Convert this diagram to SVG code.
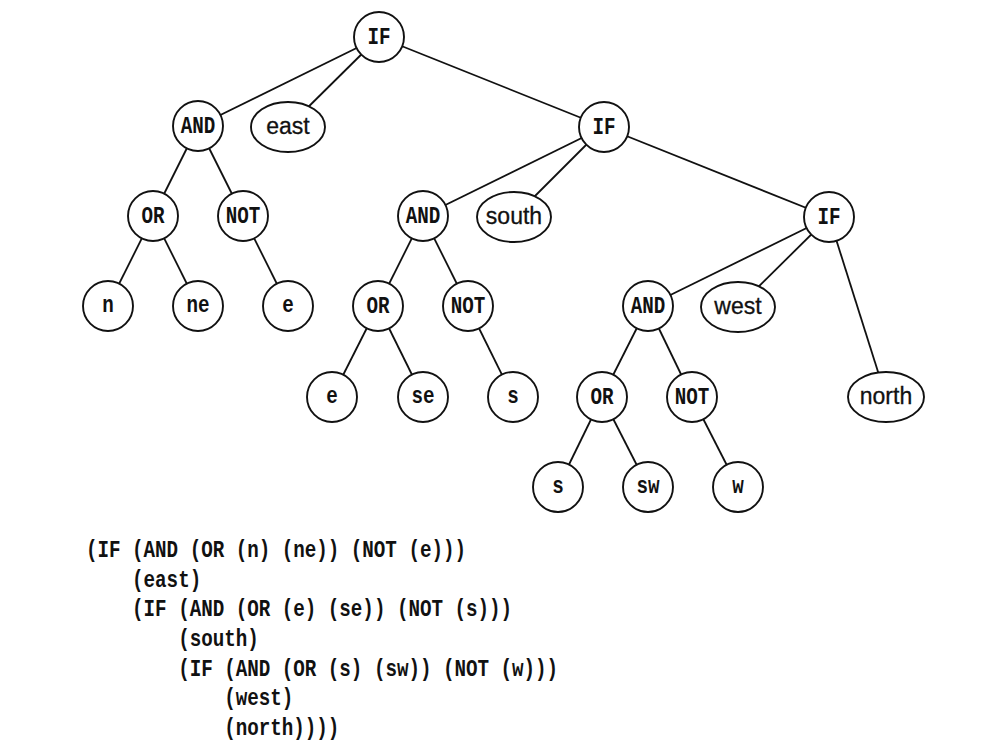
<svg xmlns="http://www.w3.org/2000/svg" width="981" height="745" viewBox="0 0 981 745">
<style>
.e{stroke:#111;stroke-width:1.8;fill:none}
.c{fill:#fff;stroke:#111;stroke-width:1.9}
.m{font-family:"Liberation Mono","Courier New",monospace;font-weight:bold;font-size:24px;fill:#111;text-anchor:middle}
.s{font-family:"Liberation Sans",Arial,sans-serif;font-size:23px;fill:#111;stroke:#111;stroke-width:0.3;text-anchor:middle}
.code{font-family:"Liberation Mono","Courier New",monospace;font-weight:bold;font-size:24px;fill:#111}
</style>
<rect width="981" height="745" fill="#fff"/>
<g id="connectors">
<line class="e" x1="379" y1="37" x2="198" y2="126"/>
<line class="e" x1="379" y1="37" x2="288" y2="127"/>
<line class="e" x1="379" y1="37" x2="604" y2="127"/>
<line class="e" x1="198" y1="126" x2="153" y2="216"/>
<line class="e" x1="198" y1="126" x2="243" y2="216"/>
<line class="e" x1="153" y1="216" x2="108" y2="306"/>
<line class="e" x1="153" y1="216" x2="198" y2="306"/>
<line class="e" x1="243" y1="216" x2="288" y2="306"/>
<line class="e" x1="604" y1="127" x2="423" y2="216"/>
<line class="e" x1="604" y1="127" x2="514" y2="217"/>
<line class="e" x1="604" y1="127" x2="829" y2="217"/>
<line class="e" x1="423" y1="216" x2="378" y2="306"/>
<line class="e" x1="423" y1="216" x2="468" y2="306"/>
<line class="e" x1="378" y1="306" x2="332" y2="397"/>
<line class="e" x1="378" y1="306" x2="423" y2="397"/>
<line class="e" x1="468" y1="306" x2="513" y2="397"/>
<line class="e" x1="829" y1="217" x2="648" y2="306"/>
<line class="e" x1="829" y1="217" x2="738" y2="307"/>
<line class="e" x1="829" y1="217" x2="886" y2="397"/>
<line class="e" x1="648" y1="306" x2="602" y2="397"/>
<line class="e" x1="648" y1="306" x2="692" y2="397"/>
<line class="e" x1="602" y1="397" x2="558" y2="487"/>
<line class="e" x1="602" y1="397" x2="648" y2="487"/>
<line class="e" x1="692" y1="397" x2="738" y2="487"/>
</g>
<g id="if1"><circle class="c" cx="379" cy="37" r="25"/><text class="m" transform="translate(379,44) scale(0.8,1)">IF</text></g>
<g id="and1"><circle class="c" cx="198" cy="126" r="25"/><text class="m" transform="translate(198,133) scale(0.8,1)">AND</text></g>
<g id="east"><ellipse class="c" cx="288" cy="127" rx="37" ry="25"/><text class="s" x="288" y="134">east</text></g>
<g id="if2"><circle class="c" cx="604" cy="127" r="25"/><text class="m" transform="translate(604,134) scale(0.8,1)">IF</text></g>
<g id="or1"><circle class="c" cx="153" cy="216" r="25"/><text class="m" transform="translate(153,223) scale(0.8,1)">OR</text></g>
<g id="not1"><circle class="c" cx="243" cy="216" r="25"/><text class="m" transform="translate(243,223) scale(0.8,1)">NOT</text></g>
<g id="n"><circle class="c" cx="108" cy="306" r="25"/><text class="m" transform="translate(108,312) scale(0.8,1)">n</text></g>
<g id="ne"><circle class="c" cx="198" cy="306" r="25"/><text class="m" transform="translate(198,312) scale(0.8,1)">ne</text></g>
<g id="e1"><circle class="c" cx="288" cy="306" r="25"/><text class="m" transform="translate(288,312) scale(0.8,1)">e</text></g>
<g id="and2"><circle class="c" cx="423" cy="216" r="25"/><text class="m" transform="translate(423,223) scale(0.8,1)">AND</text></g>
<g id="south"><ellipse class="c" cx="514" cy="217" rx="37" ry="25"/><text class="s" x="514" y="224">south</text></g>
<g id="if3"><circle class="c" cx="829" cy="217" r="25"/><text class="m" transform="translate(829,224) scale(0.8,1)">IF</text></g>
<g id="or2"><circle class="c" cx="378" cy="306" r="25"/><text class="m" transform="translate(378,313) scale(0.8,1)">OR</text></g>
<g id="not2"><circle class="c" cx="468" cy="306" r="25"/><text class="m" transform="translate(468,313) scale(0.8,1)">NOT</text></g>
<g id="e2"><circle class="c" cx="332" cy="397" r="25"/><text class="m" transform="translate(332,403) scale(0.8,1)">e</text></g>
<g id="se"><circle class="c" cx="423" cy="397" r="25"/><text class="m" transform="translate(423,403) scale(0.8,1)">se</text></g>
<g id="s1"><circle class="c" cx="513" cy="397" r="25"/><text class="m" transform="translate(513,403) scale(0.8,1)">s</text></g>
<g id="and3"><circle class="c" cx="648" cy="306" r="25"/><text class="m" transform="translate(648,313) scale(0.8,1)">AND</text></g>
<g id="west"><ellipse class="c" cx="738" cy="307" rx="37" ry="25"/><text class="s" x="738" y="314">west</text></g>
<g id="north"><ellipse class="c" cx="886" cy="397" rx="38" ry="25"/><text class="s" x="886" y="404">north</text></g>
<g id="or3"><circle class="c" cx="602" cy="397" r="25"/><text class="m" transform="translate(602,404) scale(0.8,1)">OR</text></g>
<g id="not3"><circle class="c" cx="692" cy="397" r="25"/><text class="m" transform="translate(692,404) scale(0.8,1)">NOT</text></g>
<g id="s2"><circle class="c" cx="558" cy="487" r="25"/><text class="m" transform="translate(558,493) scale(0.8,1)">s</text></g>
<g id="sw"><circle class="c" cx="648" cy="487" r="25"/><text class="m" transform="translate(648,493) scale(0.8,1)">sw</text></g>
<g id="w"><circle class="c" cx="738" cy="487" r="25"/><text class="m" transform="translate(738,493) scale(0.8,1)">w</text></g>
<g id="code" transform="translate(86,0) scale(0.8,1)">
<text class="code" x="0" y="557">(IF (AND (OR (n) (ne)) (NOT (e)))</text>
<text class="code" x="57.6" y="586.7">(east)</text>
<text class="code" x="57.6" y="616.3">(IF (AND (OR (e) (se)) (NOT (s)))</text>
<text class="code" x="115.2" y="646">(south)</text>
<text class="code" x="115.2" y="675.7">(IF (AND (OR (s) (sw)) (NOT (w)))</text>
<text class="code" x="172.8" y="705.3">(west)</text>
<text class="code" x="172.8" y="735">(north))))</text>
</g>
</svg>
